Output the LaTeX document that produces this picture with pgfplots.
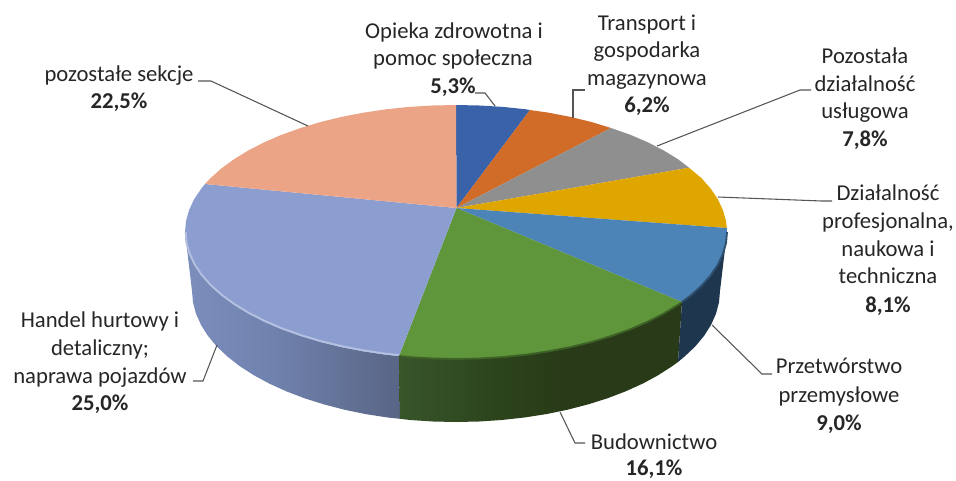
\documentclass[border=0pt]{standalone}
\usepackage{pgfplots}
\pgfplotsset{compat=1.18}
\usepackage{fontspec}
\setmainfont{Carlito}
\definecolor{cBlue}{HTML}{3A62A8}
\definecolor{cOrange}{HTML}{D06C28}
\definecolor{cGray}{HTML}{8F8F8F}
\definecolor{cYellow}{HTML}{DFA600}
\definecolor{cSteel}{HTML}{4C84B8}
\definecolor{cGreen}{HTML}{5F963B}
\definecolor{cPeri}{HTML}{8C9ED0}
\definecolor{cSalmon}{HTML}{EBA486}
\definecolor{cNavy}{HTML}{1F364F}
\definecolor{txt}{HTML}{262626}
\definecolor{lead}{HTML}{555555}
\definecolor{pa}{HTML}{7B8EBC}
\definecolor{pb}{HTML}{7082AE}
\definecolor{pc}{HTML}{596585}
\definecolor{ga}{HTML}{38552A}
\definecolor{gb}{HTML}{2C441C}
\definecolor{gc}{HTML}{283A18}
\pgfdeclarehorizontalshading{periside}{100bp}{color(0bp)=(pa);color(25bp)=(pa);color(45bp)=(pb);color(75bp)=(pc);color(100bp)=(pc)}
\pgfdeclarehorizontalshading{greenside}{100bp}{color(0bp)=(ga);color(25bp)=(ga);color(42bp)=(gb);color(55bp)=(gc);color(100bp)=(gc)}
\newcommand{\lab}[3]{\node[font=\fontsize{17}{20}\selectfont,text=txt,anchor=base,inner sep=0pt] at (axis cs:#1,#2) {#3};}
\newcommand{\val}[3]{\node[font=\fontsize{17}{20}\selectfont\bfseries,text=txt,anchor=base,inner sep=0pt] at (axis cs:#1,#2) {#3};}
\begin{document}
\begin{tikzpicture}
\path[use as bounding box] (0,0) rectangle (717pt,360pt);
\begin{axis}[
  at={(0,0)}, anchor=south west,
  scale only axis, width=717pt, height=360pt,
  xmin=0, xmax=956, ymin=0, ymax=480, y dir=reverse,
  hide axis, clip=false]
% sides
\addplot[shading=periside, draw=none] coordinates {(399,356)(385.9,354.7)(363.3,351.3)(341.5,347.1)(320.5,342)(300.6,336)(281.8,329.3)(264.4,321.8)(248.4,313.6)(234,304.8)(221.3,295.5)(210.4,285.7)(201.3,275.4)(194.2,264.9)(189.1,254)(186,243.1)(185,232)(192,291)(193,302.4)(196,313.7)(201,324.9)(207.9,335.8)(216.7,346.4)(227.4,356.5)(239.7,366.1)(253.8,375.2)(269.3,383.6)(286.3,391.3)(304.6,398.3)(324,404.4)(344.4,409.7)(365.7,414.1)(387.7,417.5)(400,418.8)} -- cycle;
\addplot[shading=greenside, draw=none] coordinates {(399,356)(409,357.1)(432.4,358.5)(456,359)(479.6,358.5)(503,357.1)(526.1,354.7)(548.7,351.3)(570.5,347.1)(591.5,342)(611.4,336)(630.2,329.3)(647.6,321.8)(663.6,313.6)(678,304.8)(682,302)(678,362)(672.3,366.1)(658.2,375.2)(642.7,383.6)(625.7,391.3)(607.4,398.3)(588,404.4)(567.6,409.7)(546.3,414.1)(524.3,417.5)(501.8,420)(479,421.5)(456,422)(433,421.5)(410.2,420)(400,418.8)} -- cycle;
\addplot[fill=cNavy, draw=none] coordinates {(682,302)(690.7,295.5)(701.6,285.7)(710.7,275.4)(717.8,264.9)(722.9,254)(726,243.1)(727,232)(720,291)(719,302.4)(716,313.7)(711,324.9)(704.1,335.8)(695.3,346.4)(684.6,356.5)(678,362)} -- cycle;
% top slices
\addplot[fill=cBlue, draw=none] coordinates {(456.5,208)(456,105)(479.6,105.5)(503,106.9)(526.1,109.3)(530,110)} -- cycle;
\addplot[fill=cOrange, draw=none] coordinates {(456.5,208)(530,110)(548.7,112.7)(570.5,116.9)(591.5,122)(611,128)} -- cycle;
\addplot[fill=cGray, draw=none] coordinates {(456.5,208)(611,128)(630.2,134.7)(647.6,142.2)(663.6,150.4)(678,159.2)(689,167.7)} -- cycle;
\addplot[fill=cYellow, draw=none] coordinates {(456.5,208)(689,167.7)(701.6,178.3)(710.7,188.6)(717.8,199.1)(722.9,210)(726,220.9)(726.8,228)} -- cycle;
\addplot[fill=cSteel, draw=none] coordinates {(456.5,208)(726.8,228)(727,232)(726,243.1)(722.9,254)(717.8,264.9)(710.7,275.4)(701.6,285.7)(690.7,295.5)(682,302)} -- cycle;
\addplot[fill=cGreen, draw=none] coordinates {(456.5,208)(682,302)(678,304.8)(663.6,313.6)(647.6,321.8)(630.2,329.3)(611.4,336)(591.5,342)(570.5,347.1)(548.7,351.3)(526.1,354.7)(503,357.1)(479.6,358.5)(456,359)(432.4,358.5)(409,357.1)(399,356)} -- cycle;
\addplot[fill=cPeri, draw=none] coordinates {(456.5,208)(399,356)(385.9,354.7)(363.3,351.3)(341.5,347.1)(320.5,342)(300.6,336)(281.8,329.3)(264.4,321.8)(248.4,313.6)(234,304.8)(221.3,295.5)(210.4,285.7)(201.3,275.4)(194.2,264.9)(189.1,254)(186,243.1)(185,232)(186,220.9)(189.1,210)(194.2,199.1)(201.3,188.6)(205,184)} -- cycle;
\addplot[fill=cSalmon, draw=none] coordinates {(456.5,208)(205,184)(210.4,178.3)(221.3,168.5)(234,159.2)(248.4,150.4)(264.4,142.2)(281.8,134.7)(300.6,128)(320.5,122)(341.5,116.9)(363.3,112.7)(385.9,109.3)(409,106.9)(432.4,105.5)(456,105)} -- cycle;
% rim bevels
\addplot[color=white!35!cPeri, line width=1.4pt, no marks] coordinates {(399,355)(385.9,353.7)(363.3,350.3)(341.5,346.1)(320.5,341)(300.6,335)(281.8,328.3)(264.4,320.8)(248.4,312.6)(234,303.8)(221.3,294.5)(210.4,284.7)(201.8,275)(194.7,264.5)(189.7,253.7)(186.6,243)(185.6,232)};
\addplot[color=cGreen!65!black, line width=1.4pt, no marks] coordinates {(682,302)(678,304.8)(663.6,313.6)(647.6,321.8)(630.2,329.3)(611.4,336)(591.5,342)(570.5,347.1)(548.7,351.3)(526.1,354.7)(503,357.1)(479.6,358.5)(456,359)(432.4,358.5)(409,357.1)(399,356)};
\addplot[color=cSteel!60!black, line width=1.4pt, no marks] coordinates {(727,232)(726,243.1)(722.9,254)(717.8,264.9)(710.7,275.4)(701.6,285.7)(690.7,295.5)(682,302)};
% leaders
\addplot[lead, line width=0.8pt, no marks] coordinates {(198,81)(211,81)(308,126)};
\addplot[lead, line width=0.8pt, no marks] coordinates {(475,93)(485,93)(495,106)};
\addplot[lead, line width=0.8pt, no marks] coordinates {(573,118)(573,90)(585,90)};
\addplot[lead, line width=0.8pt, no marks] coordinates {(657,146)(800,90)(811,90)};
\addplot[lead, line width=0.8pt, no marks] coordinates {(718,197)(822,201)(832,201)};
\addplot[lead, line width=0.8pt, no marks] coordinates {(712,325)(762,374)(772,374)};
\addplot[lead, line width=0.8pt, no marks] coordinates {(560,412)(575,443)(585,443)};
\addplot[lead, line width=0.8pt, no marks] coordinates {(217,345)(203,381)(193,381)};
% labels
\lab{454}{38}{Opieka zdrowotna i}
\lab{453}{65.5}{pomoc społeczna}
\val{453}{93}{5,3\%}
\lab{647}{30}{Transport i}
\lab{647}{57}{gospodarka}
\lab{647}{85}{magazynowa}
\val{647}{112}{6,2\%}
\lab{865}{63}{Pozostała}
\lab{865}{91}{działalność}
\lab{865}{118}{usługowa}
\val{865}{146}{7,8\%}
\lab{888}{200}{Działalność}
\lab{888}{228}{profesjonalna,}
\lab{888}{256}{naukowa i}
\lab{888}{283}{techniczna}
\val{888}{312}{8,1\%}
\lab{839}{373}{Przetwórstwo}
\lab{839}{402}{przemysłowe}
\val{839}{430}{9,0\%}
\lab{654}{449}{Budownictwo}
\val{654}{475}{16,1\%}
\lab{100}{327}{Handel hurtowy i}
\lab{100}{355}{detaliczny;}
\lab{100}{383}{naprawa pojazdów}
\val{100}{410}{25,0\%}
\lab{119}{81.5}{pozostałe sekcje}
\val{119}{108.5}{22,5\%}
\end{axis}
\end{tikzpicture}
\end{document}
